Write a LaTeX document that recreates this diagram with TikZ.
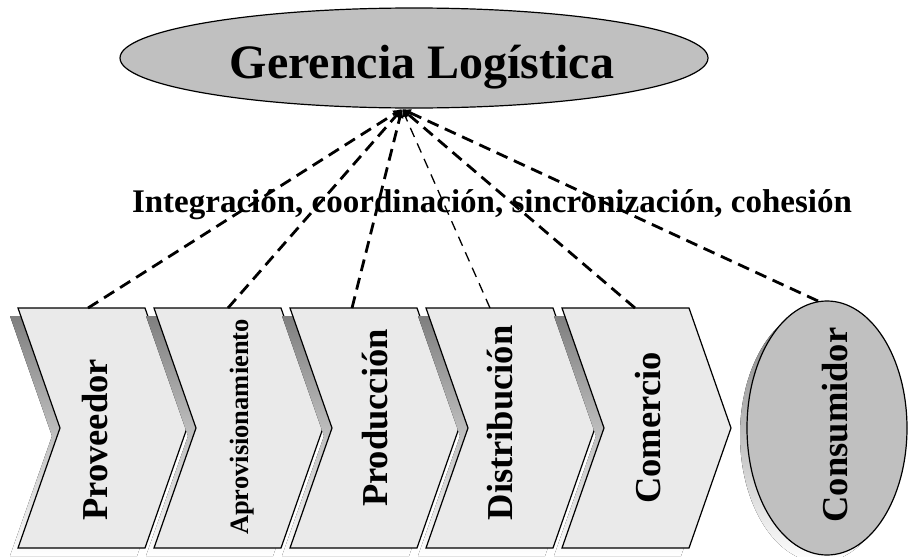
\documentclass[tikz,border=0pt]{standalone}
\usepackage{fontspec}
\setmainfont{Liberation Serif}
\usetikzlibrary{arrows.meta,shapes.geometric}
\definecolor{chevfill}{HTML}{EAEAEA}
\definecolor{ovalfill}{HTML}{C0C0C0}
\definecolor{shade}{HTML}{808080}

\begin{document}
\begin{tikzpicture}[x=1pt,y=-1pt,
  chevron/.style={draw=black,line width=1.2pt,fill=chevfill,line join=miter},
  oval/.style={draw=black,line width=1.2pt,fill=ovalfill,ellipse,inner sep=0pt},
  vlabel/.style={rotate=90,anchor=base,inner sep=0pt,
    font=\bfseries\fontsize{36.5}{36.5}\selectfont},
  link/.style={line width=2.8pt,dash pattern=on 12pt off 7pt,
    -{Latex[length=9pt,width=8pt]}},
  thinlink/.style={line width=1.3pt,dash pattern=on 10pt off 7pt,
    -{Latex[length=8pt,width=6pt]}}
]
\useasboundingbox (0,0) rectangle (908,557);

% top management oval
\node[oval,minimum width=588pt,minimum height=100pt] (ger) at (414,58) {};
\node[anchor=base,inner sep=0pt,font=\bfseries\fontsize{48}{48}\selectfont]
  (gertext) at (422,78) {Gerencia Logística};
\coordinate (hub) at (402,109);

% chain of chevrons, each with its drop shadow
\foreach \L in {18,154,290,426,562} {
  \fill[shade] ({\L-8},316) -- ++(127,0) -- ++(42,120) -- ++(-42,120)
    -- ++(-127,0) -- ++(42,-120) -- cycle;
  \draw[chevron] (\L,308) -- ++(127,0) -- ++(42,120) -- ++(-42,120)
    -- ++(-127,0) -- ++(42,-120) -- cycle;
}

% consumer oval with shadow
\fill[shade] (820,435) ellipse [x radius=80pt, y radius=127pt];
\node[oval,minimum width=160pt,minimum height=254pt] (cons) at (827,428) {};

% stage labels
\node[vlabel] (prov) at (107,440) {Proveedor};
\node[vlabel,font=\bfseries\fontsize{26.5}{26.5}\selectfont] (aprov) at (248,427) {Aprovisionamiento};
\node[vlabel] (prod) at (387,418) {Producción};
\node[vlabel] (dist) at (512,423) {Distribución};
\node[vlabel] (come) at (660,428) {Comercio};
\node[vlabel] (consl) at (847,425) {Consumidor};

% caption across the links
\node[anchor=base,inner sep=0pt,font=\bfseries\fontsize{33}{33}\selectfont]
  (caption) at (492,212) {Integración, coordinación, sincronización, cohesión};

% attachment points on top of each stage
\coordinate (t1) at (88,308);
\coordinate (t2) at (228,308);
\coordinate (t3) at (352,308);
\coordinate (t4) at (490,308);
\coordinate (t5) at (635,308);
\coordinate (t6) at (818,301);

\draw[link] (t1) -- (hub);
\draw[link] (t2) -- (hub);
\draw[link] (t3) -- (hub);
\draw[thinlink] (t4) -- (hub);
\draw[link] (t5) -- (hub);
\draw[link] (t6) -- (hub);
\end{tikzpicture}
\end{document}
